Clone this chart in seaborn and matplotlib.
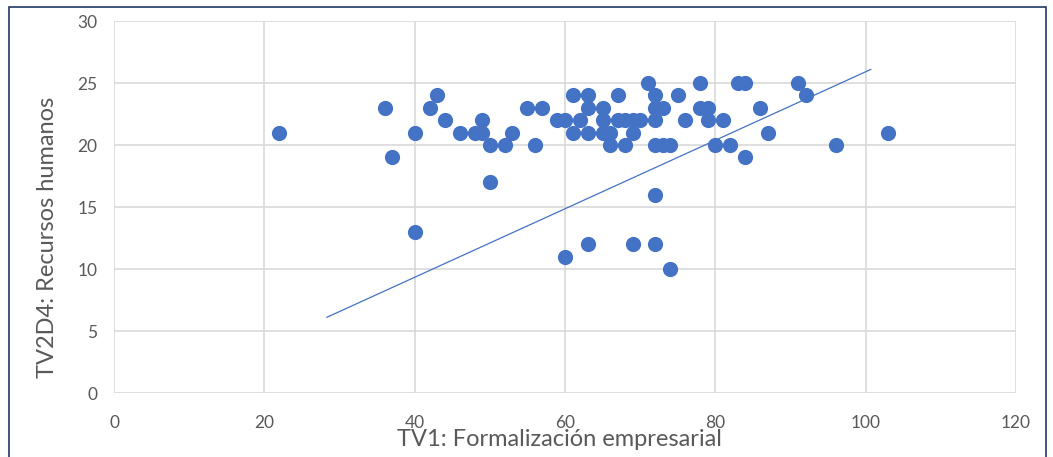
import numpy as np
import pandas as pd
import matplotlib
matplotlib.use('Agg')
import matplotlib.pyplot as plt
import seaborn as sns
from matplotlib.patches import Rectangle

# Data
formalizacion = [22, 36, 37, 40, 40, 42, 43, 44, 46, 48, 49, 49, 50, 50, 52, 53, 55, 56, 57,
                 59, 60, 60, 61, 61, 62, 63, 63, 63, 63, 65, 65, 65, 66, 66, 67, 67, 68, 68,
                 69, 69, 69, 70, 71, 72, 72, 72, 72, 72, 72, 73, 73, 74, 74, 75, 76, 78, 78,
                 79, 79, 80, 81, 82, 83, 84, 84, 86, 87, 91, 92, 96, 103]
recursos = [21, 23, 19, 21, 13, 23, 24, 22, 21, 21, 21, 22, 20, 17, 20, 21, 23, 20, 23,
            22, 22, 11, 24, 21, 22, 24, 23, 21, 12, 23, 22, 21, 21, 20, 24, 22, 22, 20,
            22, 21, 12, 22, 25, 24, 23, 22, 20, 16, 12, 23, 20, 20, 10, 24, 22, 25, 23,
            23, 22, 20, 22, 20, 25, 25, 19, 23, 21, 25, 24, 20, 21]
line_x = [28.3, 100.7]
line_y = [6.1, 26.1]
x_ticks = [0, 20, 40, 60, 80, 100, 120]
y_ticks = [0, 5, 10, 15, 20, 25, 30]

df = pd.DataFrame({'x': formalizacion, 'y': recursos})
df_line = pd.DataFrame({'x': line_x, 'y': line_y})

sns.set_style('white')
plt.rcParams['font.family'] = ['Lato', 'DejaVu Sans']

blue = '#4472C4'
gray_txt = '#595959'

fig = plt.figure(figsize=(10.53, 4.57), dpi=100)
ax = fig.add_axes([114 / 1053, 1 - 393 / 457, 902 / 1053, 372 / 457])

sns.scatterplot(data=df, x='x', y='y', ax=ax, color=blue, s=120, linewidth=0, zorder=3)
sns.lineplot(data=df_line, x='x', y='y', ax=ax, color=blue, linewidth=0.9, zorder=4)

ax.set_xlim(0, 120)
ax.set_ylim(0, 30)
ax.set_xticks(x_ticks)
ax.set_yticks(y_ticks)
ax.grid(True, color='#d9d9d9', linewidth=1.2)
ax.set_axisbelow(True)
for s in ax.spines.values():
    s.set_visible(False)
ax.tick_params(axis='both', length=0, labelsize=12.5, labelcolor=gray_txt)
ax.tick_params(axis='x', pad=16)
ax.tick_params(axis='y', pad=12)

ax.set_xlabel('TV1: Formalización empresarial', fontsize=17, color=gray_txt)
ax.set_ylabel('TV2D4: Recursos humanos', fontsize=17, color=gray_txt)
ax.xaxis.set_label_coords(0.494, -0.097)
ax.yaxis.set_label_coords(-0.062, 0.418)

# outer frame
fig.patches.append(Rectangle((9 / 1053, -0.01), 1037 / 1053, 1 - 7 / 457 + 0.01,
                             transform=fig.transFigure, fill=False,
                             edgecolor='#203864', linewidth=1.2))

fig.savefig('out.png', dpi=100)
